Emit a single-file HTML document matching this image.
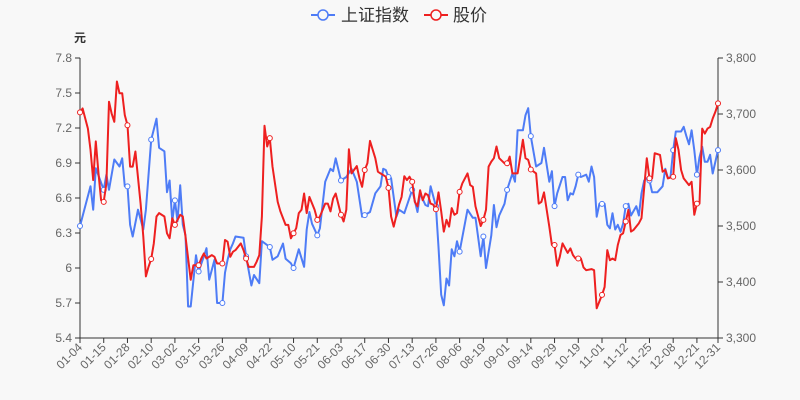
<!DOCTYPE html>
<html><head><meta charset="utf-8"><style>
body{margin:0;background:#f8f8f8;}
svg{display:block;font-family:"Liberation Sans","Noto Sans CJK SC",sans-serif;}
</style></head><body>
<svg id="chart" width="800" height="400" viewBox="0 0 800 400">
<rect width="800" height="400" fill="#f8f8f8"/>
<g>
 <g>
  <line x1="311" y1="15" x2="335" y2="15" stroke="#4e7cf6" stroke-width="2"/>
  <circle cx="323" cy="15" r="5" fill="#f8f8f8" stroke="#4e7cf6" stroke-width="1.5"/>
  <text x="341" y="21" font-size="17" fill="#333">上证指数</text>
 </g>
 <g>
  <line x1="424" y1="15" x2="448" y2="15" stroke="#ee2020" stroke-width="2"/>
  <circle cx="436" cy="15" r="5" fill="#f8f8f8" stroke="#ee2020" stroke-width="1.5"/>
  <text x="453" y="21" font-size="17" fill="#333">股价</text>
 </g>
</g>
<text x="80" y="42" font-size="12" font-weight="bold" fill="#333" text-anchor="middle">元</text>
<g id="axes"></g>
<g id="series"></g>
</svg>
<script>
const xLabels=["01-04","01-15","01-28","02-10","03-02","03-15","03-26","04-09","04-22","05-10","05-21","06-03","06-17","06-30","07-13","07-26","08-06","08-19","09-01","09-14","09-29","10-19","11-01","11-12","11-25","12-08","12-21","12-31"];
const xLabelDays=[0,9,18,27,36,45,54,63,72,81,90,99,108,117,126,135,144,153,162,171,180,189,198,207,216,225,234,242];
const leftTicks=[5.4,5.7,6,6.3,6.6,6.9,7.2,7.5,7.8];
const rightTicks=[3300,3400,3500,3600,3700,3800];
const indexDays=[0,4,5,6,9,10,11,13,15,16,17,18,19,20,22,24,25,27,29,30,32,33,34,35,36,37,38,39,40,41,42,44,45,47,48,49,51,52,54,55,56,57,58,59,62,63,65,66,68,69,72,73,75,77,78,80,81,83,85,86,87,88,90,91,93,95,96,97,99,101,103,105,107,110,112,114,115,116,117,118,120,121,123,126,128,129,131,132,133,135,136,137,138,139,140,141,142,143,144,147,149,150,152,153,154,156,157,158,159,161,162,164,165,166,168,169,170,171,173,175,176,178,179,180,181,183,184,185,186,187,188,189,190,192,193,194,195,196,197,199,200,201,202,203,204,205,206,207,208,209,211,212,213,214,215,216,217,219,221,222,223,224,225,226,228,229,230,231,232,233,234,235,236,237,238,239,240,242];
const indexValues=[6.36,6.70,6.50,6.855,6.67,6.80,6.67,6.93,6.87,6.94,6.70,6.70,6.37,6.27,6.50,6.33,6.50,7.10,7.28,7.03,7.00,6.65,6.75,6.40,6.58,6.40,6.71,6.37,6.28,5.67,5.67,6.11,5.97,6.10,6.17,5.90,6.07,5.70,5.70,5.96,6.07,6.16,6.21,6.27,6.26,6.10,5.85,5.94,5.87,6.23,6.18,6.07,6.10,6.21,6.08,6.04,6.00,6.16,6.01,6.33,6.48,6.38,6.28,6.34,6.74,6.85,6.83,6.94,6.75,6.78,6.85,6.74,6.44,6.48,6.64,6.70,6.85,6.84,6.78,6.77,6.44,6.50,6.47,6.67,6.48,6.64,6.54,6.53,6.70,6.53,6.18,5.77,5.68,5.91,5.85,6.16,6.10,6.23,6.14,6.50,6.43,6.43,6.10,6.27,6.00,6.28,6.54,6.35,6.45,6.55,6.67,6.81,6.74,7.18,7.18,7.31,7.37,7.13,6.87,6.90,7.03,6.74,6.83,6.53,6.64,6.78,6.78,6.58,6.64,6.63,6.70,6.80,6.78,6.80,6.74,6.87,6.78,6.44,6.55,6.55,6.37,6.34,6.47,6.33,6.37,6.31,6.38,6.53,6.55,6.45,6.53,6.45,6.64,6.75,6.77,6.75,6.65,6.65,6.70,6.85,6.77,6.78,7.01,7.17,7.17,7.21,7.13,7.06,7.18,7.01,6.80,6.95,7.04,6.91,6.91,6.97,6.81,7.01];
const priceDays=[0,1,3,4,5,6,7,8,9,10,11,12,13,14,15,16,17,18,19,20,21,23,24,25,26,27,28,29,30,32,33,34,35,36,38,39,40,42,43,45,46,47,48,50,51,52,54,55,56,57,58,59,61,62,63,64,66,67,68,69,70,71,72,73,75,76,78,79,80,82,83,84,85,86,87,89,90,91,93,94,95,96,97,99,100,101,102,103,105,106,107,108,109,110,112,113,114,116,117,118,119,121,122,123,124,125,126,127,128,129,130,131,132,133,134,135,136,137,138,139,140,141,142,143,144,145,147,148,149,150,152,153,154,155,156,157,158,159,161,162,163,164,166,167,168,169,170,171,173,174,175,176,178,179,180,181,182,183,185,186,187,188,190,191,192,194,195,196,198,199,200,201,202,203,204,205,206,208,209,210,212,213,215,216,217,218,220,221,222,223,225,226,227,228,229,231,232,233,234,235,236,237,238,239,240,241,242];
const priceValues=[3703,3710,3674,3636,3582,3651,3594,3546,3543,3576,3722,3701,3686,3758,3737,3737,3698,3680,3606,3606,3633,3540,3481,3410,3427,3441,3469,3517,3523,3517,3487,3478,3514,3502,3520,3517,3481,3404,3430,3430,3442,3451,3442,3448,3445,3433,3433,3475,3472,3445,3454,3457,3469,3457,3442,3427,3427,3436,3448,3517,3679,3642,3657,3606,3543,3526,3502,3502,3478,3496,3523,3529,3558,3523,3552,3529,3511,3517,3540,3540,3526,3549,3558,3520,3508,3529,3637,3594,3607,3585,3570,3600,3612,3652,3621,3597,3594,3588,3568,3517,3499,3538,3552,3589,3582,3588,3579,3543,3535,3564,3546,3558,3555,3540,3538,3530,3560,3526,3490,3511,3499,3532,3520,3523,3561,3576,3594,3573,3570,3535,3500,3511,3529,3606,3615,3621,3642,3621,3612,3612,3624,3594,3594,3624,3654,3621,3618,3601,3594,3540,3543,3560,3499,3466,3466,3429,3445,3469,3452,3460,3448,3442,3442,3426,3421,3423,3421,3353,3377,3391,3457,3439,3442,3439,3466,3484,3487,3529,3490,3493,3505,3514,3621,3585,3585,3630,3627,3597,3600,3585,3588,3657,3636,3600,3585,3573,3579,3520,3540,3540,3674,3665,3674,3677,3692,3704,3719];

const NS="http://www.w3.org/2000/svg";
const L=80,R=718,T=58,B=338,LASTDAY=242;
const xScale=d=>L+(R-L)*d/LASTDAY;
const yLeft=v=>B-(v-5.4)/(7.8-5.4)*(B-T);
const yRight=v=>B-(v-3300)/(3800-3300)*(B-T);
function mk(tag,attrs,parent){const e=document.createElementNS(NS,tag);for(const k in attrs)e.setAttribute(k,attrs[k]);parent.appendChild(e);return e;}
const axes=document.getElementById('axes'),series=document.getElementById('series');

let e=mk('line',{x1:L,y1:T,x2:L,y2:B,stroke:'#333',"stroke-width":1},axes);


e=mk('line',{x1:R,y1:T,x2:R,y2:B,stroke:'#333',"stroke-width":1},axes);


e=mk('line',{x1:L,y1:B,x2:R,y2:B,stroke:'#333',"stroke-width":1},axes);



leftTicks.forEach(v=>{const y=yLeft(v);
 mk('line',{x1:L-5,y1:y,x2:L,y2:y,stroke:'#333'},axes);
 const t=mk('text',{x:L-8,y:y+4,"font-size":12,fill:'#666',"text-anchor":'end'},axes);t.textContent=String(v);
 
 });
rightTicks.forEach(v=>{const y=yRight(v);
 mk('line',{x1:R,y1:y,x2:R+5,y2:y,stroke:'#333'},axes);
 const t=mk('text',{x:R+8,y:y+4,"font-size":12,fill:'#666'},axes);t.textContent=v.toLocaleString('en-US');
 
 });
xLabels.forEach((lab,i)=>{const x=xScale(xLabelDays[i]);
 mk('line',{x1:x,y1:B,x2:x,y2:B+5,stroke:'#333'},axes);
 const t=mk('text',{x:x+3,y:B+10,"font-size":12,fill:'#666',"text-anchor":'end',transform:`rotate(-45 ${x+3} ${B+10})`},axes);t.textContent=lab;
 
 });

function interp(days,vals,d){for(let i=0;i<days.length-1;i++){if(d>=days[i]&&d<=days[i+1]){const f=(d-days[i])/(days[i+1]-days[i]||1);return vals[i]+f*(vals[i+1]-vals[i]);}}return vals[vals.length-1];}
function drawSeries(days,vals,ys,color,name){
 const pts=days.map((d,i)=>xScale(d).toFixed(1)+','+ys(vals[i]).toFixed(1)).join(' ');
 const p=mk('polyline',{points:pts,fill:'none',stroke:color,"stroke-width":2,"stroke-linejoin":'round'},series);
 
 
 xLabelDays.forEach(d=>{const c=mk('circle',{cx:xScale(d),cy:ys(interp(days,vals,d)),r:2.5,fill:'#fff',stroke:color,"stroke-width":1},series);
  
  });
}
drawSeries(indexDays,indexValues,yLeft,'#4e7cf6','index');
drawSeries(priceDays,priceValues,yRight,'#ee2020','stock-price');
</script>
</body></html>
